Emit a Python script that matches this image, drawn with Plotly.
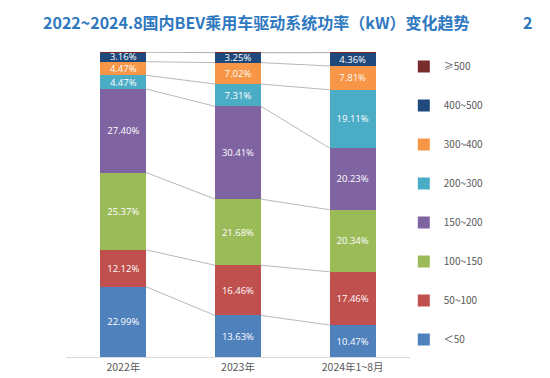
import numpy as np
import plotly.graph_objects as go

categories = ["2022年", "2023年", "2024年1~8月"]
series_names = ["＜50", "50~100", "100~150", "150~200", "200~300", "300~400", "400~500", "≥500"]
v_lt50 = [22.99, 13.63, 10.47]
v_50_100 = [12.12, 16.46, 17.46]
v_100_150 = [25.37, 21.68, 20.34]
v_150_200 = [27.40, 30.41, 20.23]
v_200_300 = [4.47, 7.31, 19.11]
v_300_400 = [4.47, 7.02, 7.81]
v_400_500 = [3.16, 3.25, 4.36]
v_ge500 = [0.02, 0.24, 0.22]
series_values = [v_lt50, v_50_100, v_100_150, v_150_200, v_200_300, v_300_400, v_400_500, v_ge500]
show_label = [True, True, True, True, True, True, True, False]
colors = ["#4F81BD", "#C0504D", "#9BBB59", "#8064A2", "#4BACC6", "#F79646", "#1F497D", "#772C2A"]

FONT = "Noto Sans CJK SC, Noto Sans, sans-serif"
LBL_FONT = "Open Sans, Noto Sans, sans-serif"
x_pos = np.arange(len(categories))
bar_w = 0.4

fig = go.Figure()

# connector lines (series lines) between bars at each cumulative level
cum = np.cumsum(np.array(series_values), axis=0)
for level in cum:
    xs, ys = [], []
    for i in range(len(categories) - 1):
        xs += [x_pos[i] + bar_w / 2, x_pos[i + 1] - bar_w / 2, None]
        ys += [level[i], level[i + 1], None]
    fig.add_trace(go.Scatter(x=xs, y=ys, mode="lines", line=dict(color="#A6A6A6", width=0.8),
                             showlegend=False, hoverinfo="skip"))

n = len(series_names)
for k, (name, vals) in enumerate(zip(series_names, series_values)):
    fig.add_trace(go.Bar(
        x=x_pos, y=vals, name=name, width=bar_w,
        marker=dict(color=colors[k], line=dict(width=0)),
        text=[f"{v:.2f}%" for v in vals] if show_label[k] else None,
        textposition="inside", insidetextanchor="middle",
        textfont=dict(color="white", size=9.5, family=LBL_FONT),
        legendgroup=name, legendrank=n - k,
    ))

fig.update_layout(
    width=550, height=378,
    barmode="stack",
    margin=dict(l=58, r=148, t=44, b=23),
    paper_bgcolor="white", plot_bgcolor="white",
    uniformtext=dict(minsize=9.5, mode="show"),
    font=dict(family=FONT, color="#595959"),
    xaxis=dict(tickvals=list(x_pos), ticktext=categories, range=[-0.5, 2.5],
               showgrid=False, zeroline=False, showline=True, linecolor="#D9D9D9",
               ticks="", tickfont=dict(size=10.5, color="#595959")),
    yaxis=dict(range=[0, 100], visible=False),
    legend=dict(x=0.982, y=1.0, xanchor="left", yanchor="top",
                traceorder="grouped", tracegroupgap=20,
                font=dict(size=10, color="#595959"), bgcolor="rgba(0,0,0,0)",
                itemclick=False),
    showlegend=True,
)

fig.add_annotation(text="2022~2024.8国内BEV乘用车驱动系统功率（kW）变化趋势",
                   xref="paper", yref="paper", x=(33 - 58) / 344, y=1 + (44 - 13) / 311,
                   xanchor="left", yanchor="middle", showarrow=False,
                   font=dict(size=16, color="#2E78C0", family=FONT, weight="bold"))
fig.add_annotation(text="2", xref="paper", yref="paper", x=(513 - 58) / 344, y=1 + (44 - 13) / 311,
                   xanchor="left", yanchor="middle", showarrow=False,
                   font=dict(size=16, color="#2E78C0", family=FONT, weight="bold"))

fig.write_html("out.html")
